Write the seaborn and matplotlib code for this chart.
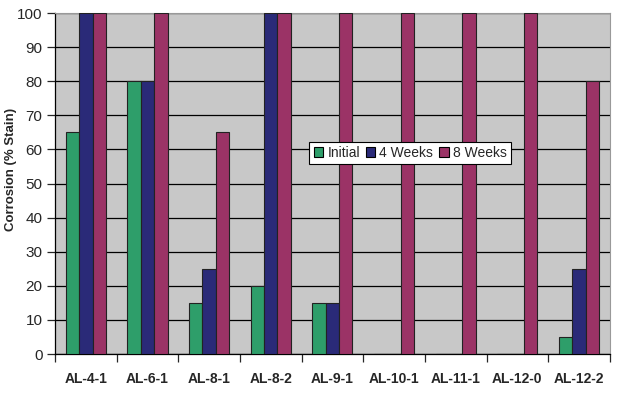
import pandas as pd
import seaborn as sns
import matplotlib.pyplot as plt
import numpy as np

samples = ['AL-4-1', 'AL-6-1', 'AL-8-1', 'AL-8-2', 'AL-9-1', 'AL-10-1', 'AL-11-1', 'AL-12-0', 'AL-12-2']
initial = [65, 80, 15, 20, 15, 0, 0, 0, 5]
weeks_4 = [100, 80, 25, 100, 15, 0, 0, 0, 25]
weeks_8 = [100, 100, 65, 100, 100, 100, 100, 100, 80]
series_names = ['Initial', '4 Weeks', '8 Weeks']

df = pd.DataFrame({'sample': samples, 'Initial': initial, '4 Weeks': weeks_4, '8 Weeks': weeks_8})
df = df.melt(id_vars='sample', var_name='series', value_name='stain')

sns.set_style('white')
plt.rcParams['font.family'] = ['Liberation Sans', 'DejaVu Sans']

colors = {'Initial': '#2e9e6a', '4 Weeks': '#2a2a78', '8 Weeks': '#9b3366'}

fig = plt.figure(figsize=(6.21, 3.94), dpi=100)
ax = fig.add_axes([0.0886, 0.1015, 0.8934, 0.8655])
ax.set_facecolor('#c8c8c8')

sns.barplot(data=df, x='sample', y='stain', hue='series', hue_order=series_names,
            palette=colors, width=0.65, edgecolor='#222222', linewidth=0.8,
            saturation=1, ax=ax, zorder=3)

# grid lines
ax.set_ylim(0, 100)
ax.set_yticks(np.arange(0, 101, 10))
ax.yaxis.grid(True, color='black', linewidth=0.9, zorder=0)
ax.set_axisbelow(True)
ax.set_xlim(-0.5, len(samples) - 0.5)

for s in ['top', 'right']:
    ax.spines[s].set_color('#999999')
    ax.spines[s].set_linewidth(0.8)
for s in ['left', 'bottom']:
    ax.spines[s].set_color('black')
    ax.spines[s].set_linewidth(0.9)

ax.tick_params(axis='y', direction='out', length=6, width=0.9, labelsize=11, pad=3, left=True)
ax.tick_params(axis='x', which='major', length=0, pad=13, labelsize=10)
ax.set_xticks(np.arange(-0.5, len(samples), 1), minor=True)
ax.tick_params(axis='x', which='minor', direction='out', length=6, width=0.9, bottom=True)
for lab in ax.get_xticklabels():
    lab.set_fontweight('bold')

ax.set_xlabel('')
ax.set_ylabel('Corrosion (% Stain)', fontsize=9.5, fontweight='bold')
ax.yaxis.set_label_coords(-0.068, 0.54)

leg = ax.legend(loc='center', bbox_to_anchor=(0.64, 0.59), ncol=3, frameon=True,
                fancybox=False, edgecolor='black', framealpha=1, fontsize=10,
                handlelength=0.7, handleheight=0.7, handletextpad=0.3,
                columnspacing=0.4, borderpad=0.3)
leg.get_frame().set_linewidth(0.8)
for h in leg.legend_handles:
    h.set_edgecolor('black')
    h.set_linewidth(0.8)

fig.savefig('out.png', dpi=100)
